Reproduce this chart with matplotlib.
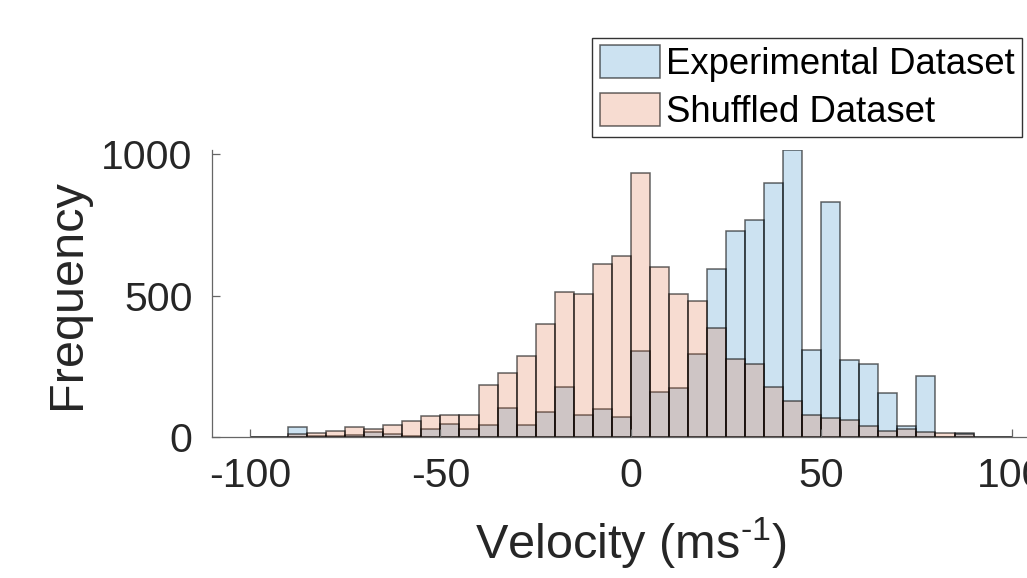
import matplotlib
matplotlib.use('Agg')
import matplotlib.pyplot as plt
import numpy as np

plt.rcParams['font.family'] = ['Liberation Sans', 'DejaVu Sans']
plt.rcParams['mathtext.fontset'] = 'custom'
plt.rcParams['mathtext.rm'] = 'Liberation Sans'
plt.rcParams['mathtext.default'] = 'regular'
plt.rcParams['axes.unicode_minus'] = False

# histogram bins (left edges, width 5)
bin_left = [-100, -95, -90, -85, -80, -75, -70, -65, -60, -55,
            -50, -45, -40, -35, -30, -25, -20, -15, -10, -5,
            0, 5, 10, 15, 20, 25, 30, 35, 40, 45,
            50, 55, 60, 65, 70, 75, 80, 85, 90, 95]
bin_width = 5

experimental = [0, 0, 38, 3, 5, 7, 20, 12, 4, 31,
                48, 31, 42, 102, 44, 88, 179, 78, 99, 71,
                304, 159, 173, 293, 596, 728, 767, 900, 1015, 308,
                832, 274, 260, 155, 39, 215, 1, 14, 0, 0]
shuffled = [0, 0, 12, 16, 24, 35, 31, 42, 56, 74,
            78, 78, 185, 227, 286, 400, 512, 506, 612, 642,
            935, 602, 506, 482, 388, 278, 258, 178, 128, 79,
            68, 60, 39, 24, 28, 18, 16, 10, 0, 0]

x_ticks = [-100, -50, 0, 50, 100]
y_ticks = [0, 500, 1000]

fig = plt.figure(figsize=(10.27, 5.78), dpi=100)
ax = fig.add_axes([0.2064, 0.2434, 0.8157, 0.497])

edge = (0, 0, 0, 0.6)
ax.bar(bin_left, experimental, width=bin_width, align='edge',
       facecolor=(0, 0.447, 0.741, 0.2), edgecolor=edge, linewidth=1.1,
       label='Experimental Dataset')
ax.bar(bin_left, shuffled, width=bin_width, align='edge',
       facecolor=(0.85, 0.325, 0.098, 0.2), edgecolor=edge, linewidth=1.1,
       label='Shuffled Dataset')

ax.set_xlim(-110, 110)
ax.set_ylim(0, 1015)
ax.set_xticks(x_ticks)
ax.set_yticks(y_ticks)

for s in ['top', 'right']:
    ax.spines[s].set_visible(False)
for s in ['left', 'bottom']:
    ax.spines[s].set_color('#666666')
    ax.spines[s].set_linewidth(0.9)

ax.tick_params(axis='both', direction='in', length=5.5, width=0.9,
               color='#666666', labelcolor='#262626', labelsize=29.5)
ax.tick_params(axis='x', pad=14)
ax.tick_params(axis='y', pad=14)

ax.set_xlabel(r'Velocity (ms$^{\text{-1}}$)', fontsize=35, color='#262626', labelpad=15)
ax.set_ylabel('Frequency', fontsize=35, color='#262626', labelpad=8)

fig.legend(loc='upper right', bbox_to_anchor=(0.995, 0.934), borderaxespad=0,
           fontsize=26.3, fancybox=False, framealpha=1, edgecolor='#333333',
           handlelength=1.65, handleheight=1.0, handletextpad=0.16,
           borderpad=0.2, labelspacing=0.3)

fig.savefig('out.png', dpi=100)
